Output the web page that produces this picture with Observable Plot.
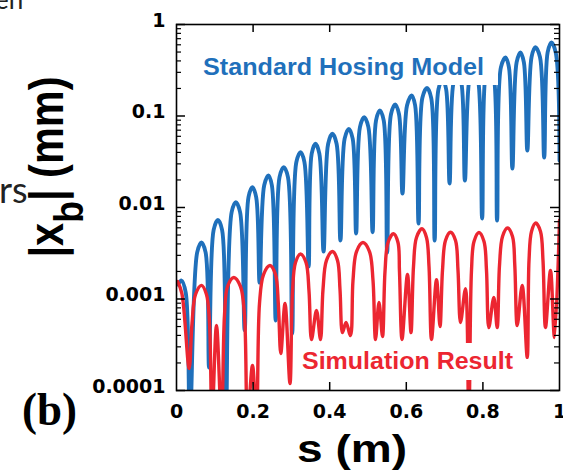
<!DOCTYPE html>
<html><head><meta charset="utf-8">
<script src="https://cdn.jsdelivr.net/npm/d3@7"></script>
<script src="https://cdn.jsdelivr.net/npm/@observablehq/plot@0.6"></script>
<style>
html,body{margin:0;padding:0;background:#fff;overflow:hidden;}
#chart{position:relative;width:563px;height:470px;}
</style></head><body><div id="chart"></div>
<script>
// Standard Hosing Model (blue), s in m, |x_b| in mm
const blueS = [0.004,0.013,0.024,0.035, 0.054,0.065,0.076,0.085, 0.097,0.108,0.119,0.129, 0.144,0.155,0.166,0.178, 0.188,0.198,0.208,0.217, 0.229,0.240,0.249,0.259, 0.269,0.280,0.291,0.302, 0.313,0.324,0.334,0.345, 0.353,0.363,0.373,0.384, 0.396,0.407,0.418,0.428, 0.439,0.450,0.460,0.469, 0.479,0.490,0.501,0.512, 0.521,0.531,0.541,0.550, 0.560,0.571,0.581,0.590, 0.602,0.614,0.623,0.632, 0.642,0.654,0.665,0.674, 0.684,0.695,0.704,0.713, 0.723,0.734,0.744,0.753, 0.765,0.776,0.787,0.798, 0.807,0.817,0.828,0.837, 0.847,0.859,0.868,0.877, 0.888,0.898,0.907,0.916, 0.927,0.937,0.949,0.960, 0.969,0.979,0.990,1.0];
const blueV = [0.00144,0.00159,0.00118,0.000047, 0.00323,0.00414,0.00323,0.000178, 0.00569,0.0073,0.00569,0.000047, 0.00889,0.0114,0.00889,0.000453, 0.0130,0.0167,0.0130,0.00151, 0.0175,0.0224,0.0175,0.000582, 0.0215,0.0276,0.0215,0.00042, 0.0314,0.0402,0.0314,0.00226, 0.0388,0.0497,0.0388,0.0033, 0.0498,0.0639,0.0498,0.00436, 0.0565,0.0724,0.0565,0.0052, 0.0757,0.097,0.0757,0.00537, 0.0897,0.115,0.0897,0.00322, 0.1045,0.134,0.1045,0.0142, 0.131,0.168,0.131,0.00668, 0.158,0.202,0.158,0.00436, 0.196,0.251,0.196,0.0183, 0.227,0.291,0.227,0.0197, 0.257,0.33,0.257,0.00758, 0.285,0.366,0.285,0.00721, 0.340,0.436,0.340,0.0267, 0.385,0.494,0.385,0.042, 0.441,0.565,0.441,0.0352, 0.496,0.636,0.496,0.0326];
// Simulation Result (red)
const redS = [0.003,0.014,0.033, 0.0405,0.0496,0.0653,0.0783,0.0862,0.0927, 0.1044,0.1175, 0.1253,0.1332,0.1496,0.1671,0.1775,0.1854, 0.1984,0.2089, 0.2167,0.2272,0.2441,0.2585,0.2658,0.2723, 0.2833,0.2963, 0.3029,0.3107,0.3238,0.3381,0.346,0.3525, 0.3655,0.376, 0.3825,0.3916,0.4073,0.4204,0.4269,0.4334, 0.4426,0.4543, 0.4608,0.470,0.4869,0.5039,0.5131,0.5196, 0.5287,0.5379, 0.5444,0.5522,0.5666,0.5783,0.5822,0.5888, 0.6031,0.6123, 0.6188,0.6266,0.641,0.6527,0.6593,0.6658, 0.6789,0.688, 0.6945,0.7023,0.7154,0.7285,0.735,0.7415, 0.7546,0.7632, 0.7702,0.7768,0.7898,0.8029,0.8094,0.8154, 0.8285,0.8373, 0.8433,0.8512,0.8642,0.8773,0.8833,0.8896, 0.9026,0.9157, 0.9204,0.9269,0.9379,0.9504,0.9569,0.9634, 0.9765,0.9869, 1.0];
const redV = [0.00155,0.00115,0.000174, 0.00054,0.00112,0.00141,0.00112,0.00054,0.000047, 0.000513,0.000047, 0.000661,0.00137,0.00172,0.00137,0.000661,0.000047, 0.000188,0.000047, 0.000893,0.00185,0.00232,0.00185,0.000893,0.000254, 0.000893,0.000119, 0.00121,0.00251,0.0031,0.00251,0.00121,0.000361, 0.000749,0.000361, 0.00127,0.00264,0.0033,0.00264,0.00127,0.00043, 0.000554,0.000399, 0.00159,0.0033,0.00414,0.0033,0.00159,0.000361, 0.000916,0.000389, 0.002,0.00414,0.00516,0.00414,0.002,0.000361, 0.00185,0.00043, 0.00226,0.0047,0.00585,0.0047,0.00226,0.000361, 0.00163,0.0005, 0.00205,0.00436,0.00537,0.00436,0.00205,0.000554, 0.0013,0.000047, 0.00205,0.00425,0.00533,0.00425,0.00205,0.000488, 0.00104,0.000488, 0.00232,0.00482,0.00597,0.00482,0.00232,0.000513, 0.00141,0.00023, 0.00264,0.00547,0.00677,0.00547,0.00264,0.000488, 0.00205,0.00038, 0.00721];

const xTicks = [0, 0.2, 0.4, 0.6, 0.8, 1];
const xTickLabels = ["0", "0.2", "0.4", "0.6", "0.8", "1"];
const xInnerTicks = [0.2, 0.4, 0.6, 0.8];
const yTicks = [0.0001, 0.001, 0.01, 0.1, 1];
const yTickLabels = ["0.0001", "0.001", "0.01", "0.1", "1"];
const seriesNames = ["Standard Hosing Model", "Simulation Result"];
const xTitle = "s (m)";
const panelLabel = "(b)";

const W = 563, H = 470, mL = 176, mR = 4, mT = 24, mB = 80;
const pw = W - mL - mR, ph = H - mT - mB;
const blue = "#1f70bb", red = "#ec2631";

const blueData = blueS.map((s, i) => ({s, v: blueV[i]}));
const redData = redS.map((s, i) => ({s, v: redV[i]}));
const isDecade = t => Math.abs(Math.log10(t) - Math.round(Math.log10(t))) < 1e-9;
const yMinor = d3.scaleLog().domain([1e-4, 1]).ticks().filter(t => !isDecade(t));

const svgNode = Plot.plot({
  width: W, height: H,
  marginLeft: mL, marginRight: mR, marginTop: mT, marginBottom: mB,
  x: {domain: [0, 1]},
  y: {type: "log", domain: [1e-4, 1]},
  style: {fontFamily: "DejaVu Sans", fontSize: "19px", fontWeight: "bold", background: "white", color: "black"},
  marks: [
    Plot.line(blueData, {x: "s", y: "v", stroke: blue, strokeWidth: 3.9, curve: "catmull-rom", clip: true}),
    Plot.line(redData, {x: "s", y: "v", stroke: red, strokeWidth: 3.4, curve: "catmull-rom", clip: true}),
    Plot.tickY(yMinor, {y: d => d, insetRight: pw - 5, stroke: "black", strokeWidth: 1.2}),
    Plot.tickY(yMinor, {y: d => d, insetLeft: pw - 5, stroke: "black", strokeWidth: 1.2}),
    Plot.tickY(yTicks, {y: d => d, insetRight: pw - 9, stroke: "black", strokeWidth: 1.5}),
    Plot.tickY(yTicks, {y: d => d, insetLeft: pw - 9, stroke: "black", strokeWidth: 1.5}),
    Plot.tickX(xInnerTicks, {x: d => d, insetTop: ph - 8, stroke: "black", strokeWidth: 1.5}),
    Plot.tickX(xInnerTicks, {x: d => d, insetBottom: ph - 8, stroke: "black", strokeWidth: 1.5}),
    Plot.frame({stroke: "black", strokeWidth: 1.6}),
    Plot.axisY({ticks: yTicks, tickSize: 0, tickPadding: 11, dy: -4, label: null,
      tickFormat: d => yTickLabels[yTicks.indexOf(d)]}),
    Plot.axisX({ticks: xTicks, tickSize: 0, tickPadding: 14, label: null,
      tickFormat: d => xTickLabels[xTicks.indexOf(d)]})
  ]
});
document.getElementById("chart").appendChild(svgNode);
const svg = d3.select(svgNode);

// series labels on white boxes
svg.append("rect").attr("x", 199).attr("y", 46).attr("width", 299).attr("height", 39).attr("fill", "white");
svg.append("text").attr("x", 203).attr("y", 75).attr("text-anchor", "start")
  .attr("font-family", "Liberation Sans, Arial, sans-serif").attr("font-weight", "bold").attr("font-size", 23)
  .attr("textLength", 281).attr("lengthAdjust", "spacingAndGlyphs").attr("fill", blue).text(seriesNames[0]);
svg.append("rect").attr("x", 298).attr("y", 343).attr("width", 220).attr("height", 37).attr("fill", "white");
svg.append("text").attr("x", 302).attr("y", 369).attr("text-anchor", "start")
  .attr("font-family", "Liberation Sans, Arial, sans-serif").attr("font-weight", "bold").attr("font-size", 23)
  .attr("textLength", 211).attr("lengthAdjust", "spacingAndGlyphs").attr("fill", red).text(seriesNames[1]);

// axis titles
const yt = svg.append("text").attr("transform", "translate(63,167) rotate(-90) scale(1,1.15)")
  .attr("text-anchor", "middle").attr("font-family", "Liberation Sans, Arial, sans-serif")
  .attr("font-weight", "bold").attr("font-size", 42).attr("fill", "black")
  .attr("textLength", 181).attr("lengthAdjust", "spacingAndGlyphs");
yt.append("tspan").text("|x");
yt.append("tspan").attr("dy", 17).attr("font-size", 36).text("b");
yt.append("tspan").attr("dy", -17).text("| (mm)");

svg.append("text").attr("x", 352).attr("y", 462).attr("text-anchor", "middle")
  .attr("font-family", "Liberation Sans, Arial, sans-serif").attr("font-weight", "bold").attr("font-size", 38)
  .attr("textLength", 110).attr("lengthAdjust", "spacingAndGlyphs").attr("fill", "black").text(xTitle);

svg.append("text").attr("x", 22).attr("y", 425).attr("text-anchor", "start")
  .attr("font-family", "Liberation Serif, Times New Roman, serif").attr("font-weight", "bold").attr("font-size", 46)
  .attr("textLength", 55).attr("lengthAdjust", "spacingAndGlyphs").attr("fill", "black").text(panelLabel);

// clipped fragments of surrounding page text
svg.append("text").attr("x", -5).attr("y", 9).attr("text-anchor", "start").attr("font-weight", "normal")
  .attr("font-family", "Lato, sans-serif").attr("font-size", 26).attr("fill", "#222").text("en");
svg.append("text").attr("x", -1).attr("y", 203).attr("text-anchor", "start").attr("font-weight", "normal")
  .attr("font-family", "Lato, sans-serif").attr("font-size", 36).attr("fill", "#222").text("rs");
</script></body></html>
